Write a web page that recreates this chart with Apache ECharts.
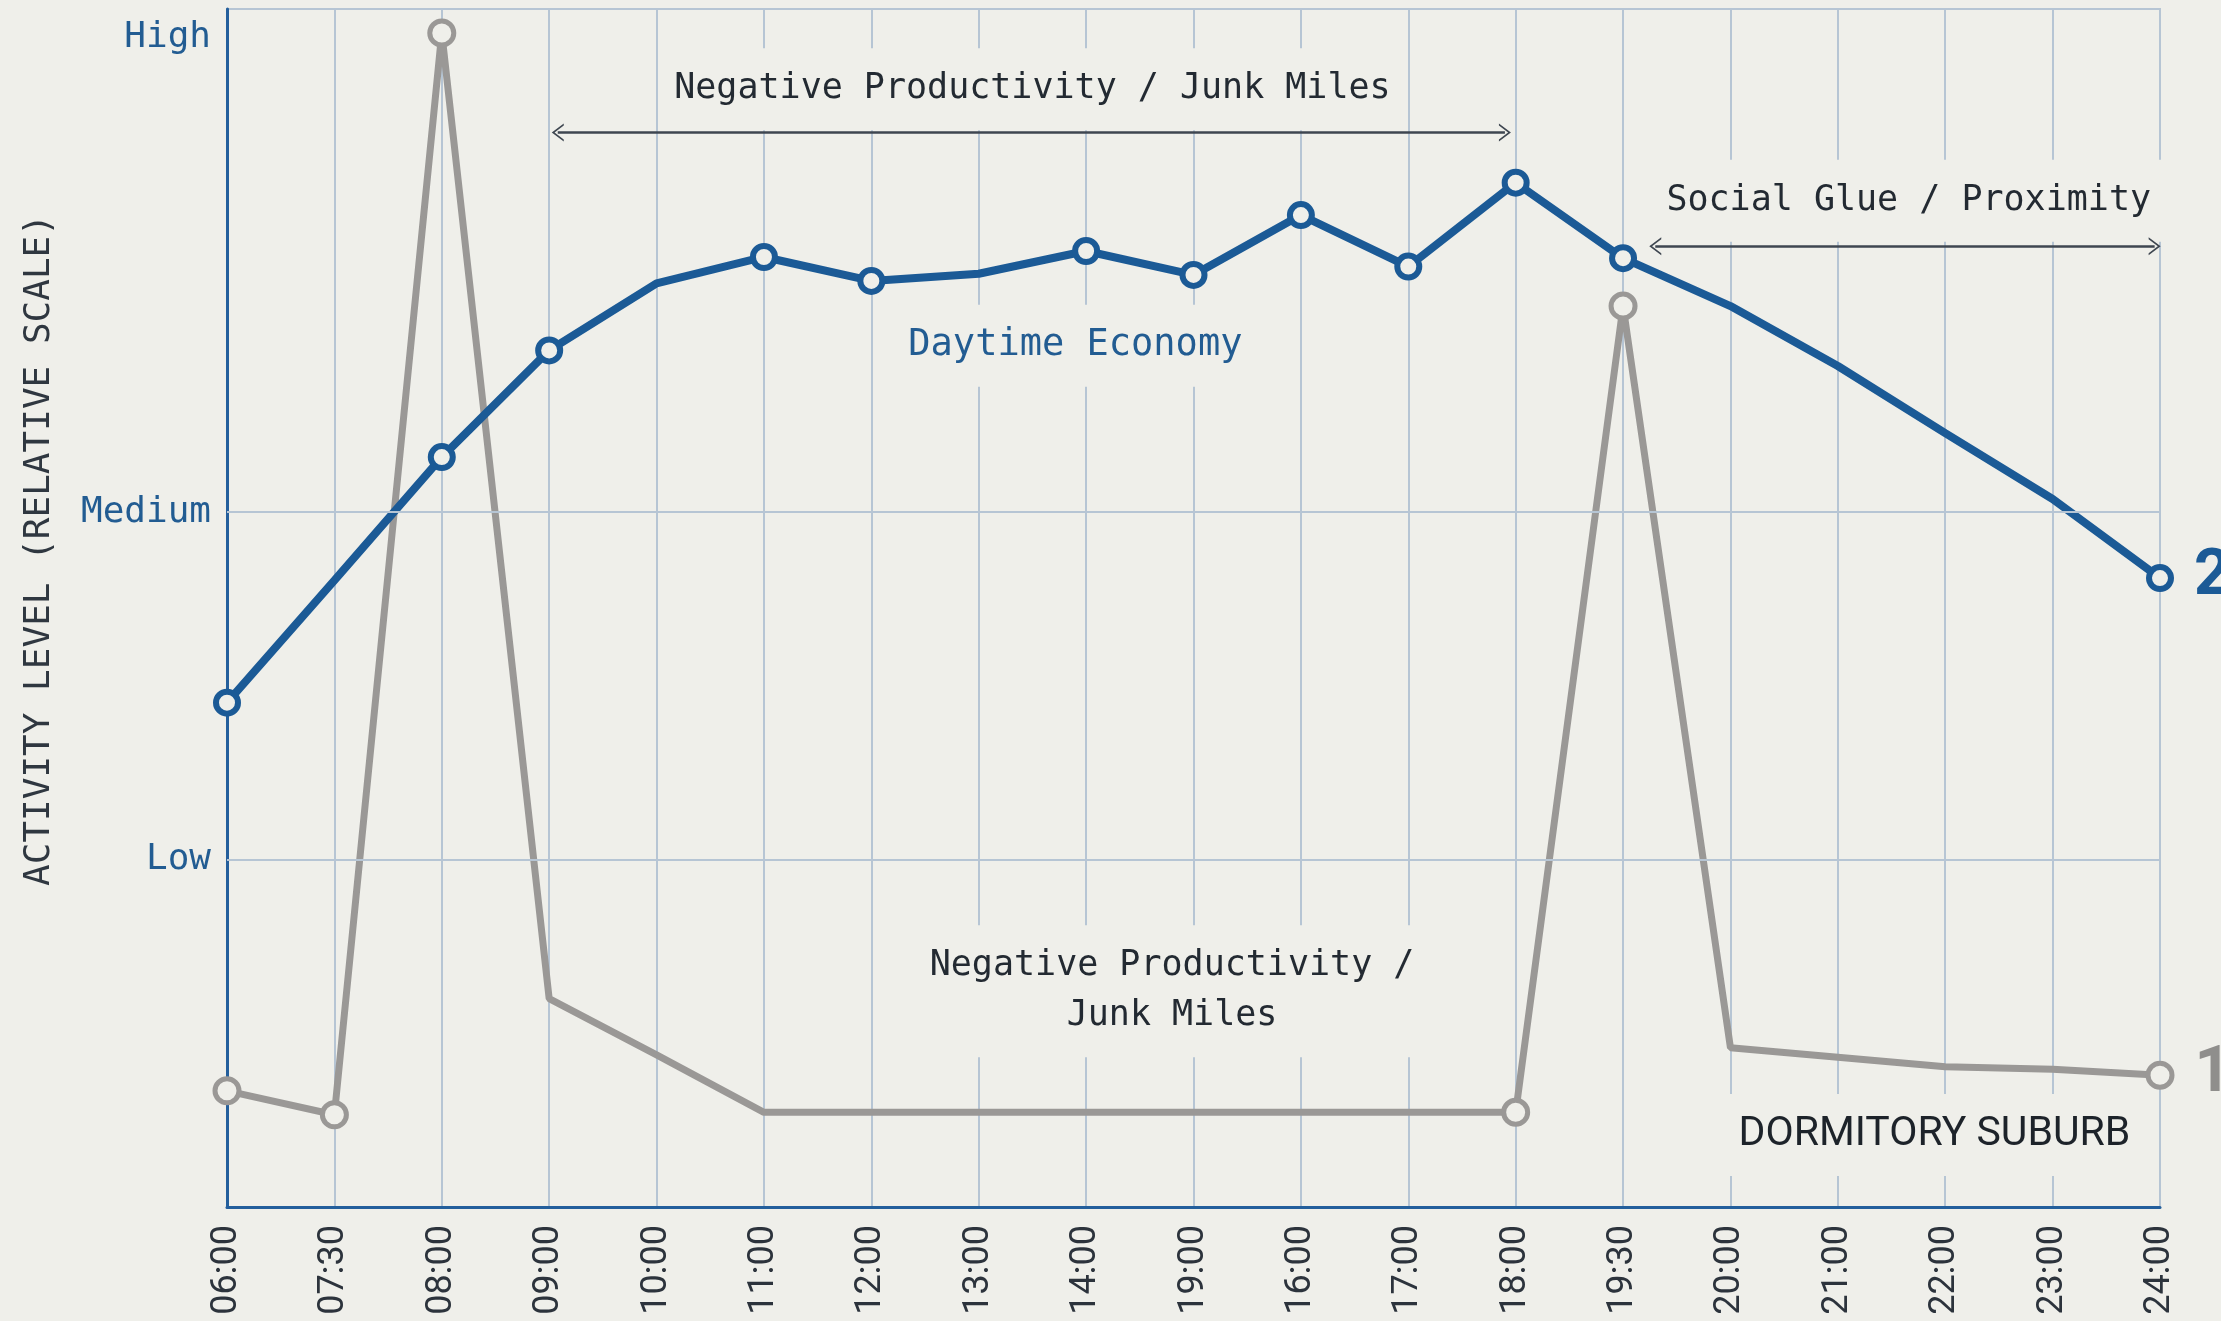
<!DOCTYPE html>
<html>
<head>
<meta charset="utf-8">
<title>Activity level</title>
<script src="https://cdn.jsdelivr.net/npm/echarts@6/dist/echarts.min.js"></script>
<style>
  html, body { margin: 0; padding: 0; background: #efefea; }
  #chart { width: 2221px; height: 1321px; }
</style>
</head>
<body>
<div id="chart"></div>
<script>
// time slots (label "19:00" between 14:00 and 16:00 is as printed on the original)
const times = ['06:00', '07:30', '08:00', '09:00', '10:00', '11:00', '12:00', '13:00', '14:00',
  '19:00', '16:00', '17:00', '18:00', '19:30', '20:00', '21:00', '22:00', '23:00', '24:00'];
// relative activity, 0..100
const daytime = [42.1, 52.3, 62.6, 71.5, 77.1, 79.3, 77.3, 77.9, 79.8, 77.8, 82.8, 78.5, 85.5,
  79.2, 75.2, 70.2, 64.6, 59.1, 52.5];
const dormitory = [9.7, 7.7, 98.0, 17.4, 12.7, 7.9, 7.9, 7.9, 7.9, 7.9, 7.9, 7.9, 7.9,
  75.2, 13.3, 12.5, 11.7, 11.5, 11.0];
// which points carry a marker
const daytimeMarked = [0, 2, 3, 5, 6, 8, 9, 10, 11, 12, 13, 18];
const dormitoryMarked = [0, 1, 2, 12, 13, 18];
// y level labels
const levelNames = ['Low', 'Medium', 'High'];
const levelValues = [29, 58, 97.6];

const bg = '#efefea';
const blue = '#1b5a96';
const labelBlue = '#225c92';
const gray = '#9a9896';
const gridColor = '#b6c5d4';
const axisBlue = '#245f9c';
const ink = '#232a32';
const mono = '"DejaVu Sans Mono", monospace';

// open chevron, pointing up (rotated along the line by markLine)
const chevron = 'path://M0,12 L9,0 L18,12 L16,12 L9,2.8 L2,12 Z';

function build(values, marked, endText, color) {
  return values.map((v, i) => {
    const item = { value: v, symbol: marked.indexOf(i) >= 0 ? 'circle' : 'none' };
    if (i === values.length - 1) {
      item.label = {
        show: true, position: 'right', distance: 20, formatter: endText,
        fontFamily: 'Roboto', fontWeight: 'bold', fontSize: 64, color: color
      };
    }
    return item;
  });
}

const chart = echarts.init(document.getElementById('chart'));
const option = {
  backgroundColor: bg,
  animation: false,
  grid: {
    left: 227, right: 61, top: 9, bottom: 114,
    show: true, borderColor: gridColor, borderWidth: 2, backgroundColor: 'transparent'
  },
  xAxis: [
    {
      type: 'category',
      data: times,
      boundaryGap: false,
      axisLine: { lineStyle: { color: axisBlue, width: 3 } },
      axisTick: { show: false },
      axisLabel: {
        interval: 0, rotate: 90, margin: 18,
        fontFamily: 'Roboto', fontSize: 36, color: '#2c333c'
      },
      splitLine: { show: true, interval: 0, lineStyle: { color: gridColor, width: 2 } }
    },
    { type: 'value', min: 0, max: times.length - 1, show: false }
  ],
  yAxis: {
    type: 'value',
    min: 0,
    max: 100,
    axisLine: { show: true, lineStyle: { color: axisBlue, width: 3 } },
    axisTick: { show: false },
    axisLabel: { show: false },
    splitLine: { show: false }
  },
  graphic: [{
    type: 'text',
    x: 40, y: 550,
    rotation: Math.PI / 2,
    style: {
      text: 'ACTIVITY LEVEL (RELATIVE SCALE)',
      fill: '#2f3740',
      fontFamily: 'DejaVu Sans Mono',
      fontSize: 36,
      textAlign: 'center', textVerticalAlign: 'middle',
      align: 'center', verticalAlign: 'middle'
    }
  }],
  series: [
    {
      // level grid lines + labels
      name: 'levels',
      type: 'line',
      xAxisIndex: 1,
      data: [],
      z: 1,
      markLine: {
        silent: true,
        symbol: 'none',
        lineStyle: { color: gridColor, width: 2, type: 'solid' },
        label: {
          show: true, position: 'start', distance: 16, formatter: '{b}',
          fontFamily: mono, fontSize: 36, color: labelBlue
        },
        data: levelValues.map((v, i) => ({
          name: levelNames[i],
          yAxis: v,
          lineStyle: i === levelValues.length - 1 ? { color: 'rgba(0,0,0,0)' } : undefined
        }))
      }
    },
    {
      // span arrows
      name: 'spans',
      type: 'line',
      xAxisIndex: 1,
      data: [],
      z: 2,
      markLine: {
        silent: true,
        symbol: [chevron, chevron],
        symbolSize: [18, 12],
        lineStyle: { color: '#3e4650', width: 2.5, type: 'solid' },
        itemStyle: { color: '#3e4650' },
        label: { show: false },
        data: [
          [{ coord: [3.08, 89.7] }, { coord: [11.9, 89.7] }],
          [{ coord: [13.3, 80.2] }, { coord: [17.95, 80.2] }]
        ]
      }
    },
    {
      // text notes
      name: 'notes',
      type: 'scatter',
      xAxisIndex: 1,
      symbolSize: 0,
      z: 2,
      silent: true,
      itemStyle: { color: bg, opacity: 1 },
      label: {
        show: true, position: 'inside', opacity: 1,
        fontFamily: mono, fontSize: 35, color: ink,
        textBorderWidth: 0, textBorderColor: 'transparent',
        backgroundColor: bg, padding: [16, 10], lineHeight: 50
      },
      data: [
        { value: [7.5, 93.3], label: { formatter: 'Negative Productivity / Junk Miles' } },
        { value: [15.66, 84.0], label: { formatter: 'Social Glue / Proximity' } },
        { value: [7.9, 71.9], label: { formatter: 'Daytime Economy', color: labelBlue, fontSize: 37 } },
        { value: [8.8, 18.0], label: { formatter: 'Negative Productivity /\nJunk Miles' } },
        { value: [15.9, 6.0], label: { formatter: 'DORMITORY SUBURB', fontFamily: 'Roboto', fontSize: 41, color: '#1d232a' } }
      ]
    },
    {
      name: 'Dormitory Suburb',
      type: 'line',
      data: build(dormitory, dormitoryMarked, '1', '#8f8e8c'),
      z: 3,
      showAllSymbol: true,
      symbolSize: 24,
      itemStyle: { color: bg, borderColor: gray, borderWidth: 5 },
      lineStyle: { color: gray, width: 7 }
    },
    {
      name: 'Daytime Economy',
      type: 'line',
      data: build(daytime, daytimeMarked, '2', blue),
      z: 4,
      showAllSymbol: true,
      symbolSize: 22,
      itemStyle: { color: bg, borderColor: blue, borderWidth: 6 },
      lineStyle: { color: blue, width: 8 }
    }
  ]
};
chart.setOption(option);
</script>
</body>
</html>
